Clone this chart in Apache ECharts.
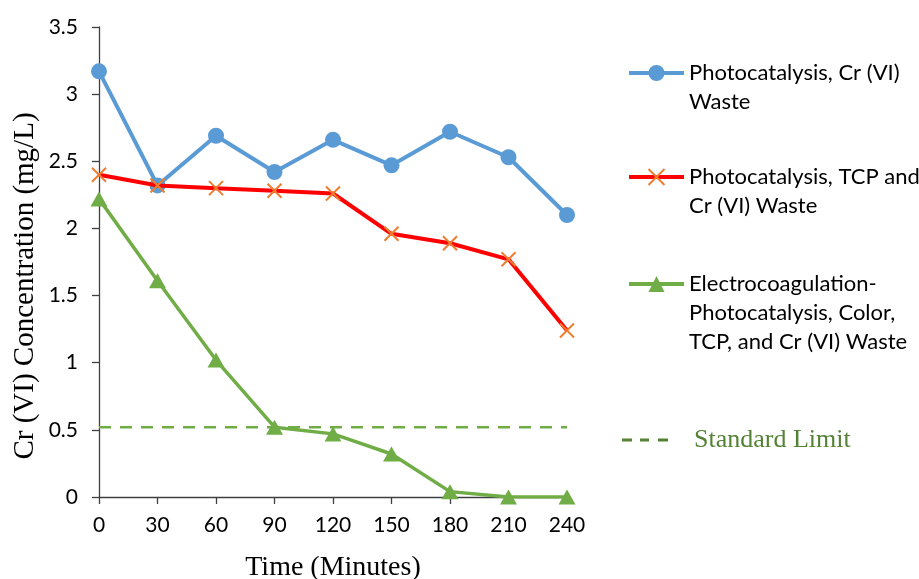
<!DOCTYPE html>
<html>
<head>
<meta charset="utf-8">
<script src="https://cdn.jsdelivr.net/npm/echarts@6/dist/echarts.min.js"></script>
<style>
html,body{margin:0;padding:0;background:#fff;}
#chart{width:919px;height:579px;}
</style>
</head>
<body>
<div id="chart"></div>
<script>
// ---- data ----
const times = [0, 30, 60, 90, 120, 150, 180, 210, 240];
const photoCr = [3.17, 2.32, 2.69, 2.42, 2.66, 2.47, 2.72, 2.53, 2.10];
const photoTcpCr = [2.40, 2.32, 2.30, 2.28, 2.26, 1.96, 1.89, 1.77, 1.24];
const ecPhoto = [2.22, 1.61, 1.02, 0.52, 0.47, 0.32, 0.04, 0.00, 0.00];
const standardLimit = [0.52, 0.52, 0.52, 0.52, 0.52, 0.52, 0.52, 0.52, 0.52];
const seriesNames = [
  'Photocatalysis, Cr (VI)\nWaste',
  'Photocatalysis, TCP and\nCr (VI) Waste',
  'Electrocoagulation-\nPhotocatalysis, Color,\nTCP, and Cr (VI) Waste',
  'Standard Limit'
];
const xTitle = 'Time (Minutes)';
const yTitle = 'Cr (VI) Concentration (mg/L)';

const pair = (vals) => times.map((t, i) => [t, vals[i]]);

const sans = 'Lato';
const serif = 'Liberation Serif';
const LH = 29;

const chart = echarts.init(document.getElementById('chart'), null, {renderer: 'canvas'});

// Legend: icon aligned with first text line (blank lines prepended to centre first line on icon)
function lg(name, top) {
  const n = name.split('\n').length;
  return {
    data: [name],
    left: 627,
    top: top,
    orient: 'vertical',
    padding: 0,
    itemWidth: 55,
    itemHeight: 20,
    itemGap: 0,
    selectedMode: false,
    lineStyle: {width: 4},
    formatter: (nm) => '\n'.repeat(n - 1) + nm,
    textStyle: {fontFamily: sans, fontSize: 22, color: '#000', lineHeight: LH}
  };
}

chart.setOption({
  animation: false,
  backgroundColor: '#fff',
  grid: {left: 99, right: 352, top: 27, bottom: 82, containLabel: false, outerBoundsMode: 'none'},
  xAxis: {
    type: 'value', min: 0, max: 240, interval: 30,
    name: xTitle, nameLocation: 'middle', nameGap: 57,
    nameTextStyle: {fontFamily: serif, fontSize: 28, color: '#000'},
    axisLine: {onZero: false, lineStyle: {color: '#404040', width: 1.3}},
    axisTick: {show: true, inside: false, length: 7, lineStyle: {color: '#404040', width: 1.3}},
    axisLabel: {fontFamily: sans, fontSize: 21, color: '#000', margin: 18},
    splitLine: {show: false}
  },
  yAxis: {
    type: 'value', min: 0, max: 3.5, interval: 0.5,
    axisLine: {show: true, lineStyle: {color: '#404040', width: 1.3}},
    axisTick: {show: true, inside: false, length: 7, lineStyle: {color: '#404040', width: 1.3}},
    axisLabel: {fontFamily: sans, fontSize: 21, color: '#000', margin: 21},
    splitLine: {show: false}
  },
  graphic: [{
    type: 'text', x: 25, y: 286, rotation: Math.PI / 2,
    style: {text: yTitle, fontFamily: serif, fontSize: 29, fill: '#000', align: 'center', verticalAlign: 'middle'}
  }],
  legend: [
    lg(seriesNames[0], 29.5),
    lg(seriesNames[1], 133.5),
    lg(seriesNames[2], 211.5),
    {
      data: [{name: seriesNames[3], icon: 'path://M0,0h10v3h-10zM18,0h9v3h-9zM36,0h10v3h-10z'}],
      left: 622, top: 425, padding: 0,
      itemWidth: 46, itemHeight: 3, selectedMode: false,
      itemStyle: {color: '#548235'},
      textStyle: {fontFamily: serif, fontSize: 26, color: '#548235', lineHeight: 30, padding: [0, 0, 0, 21]}
    }
  ],
  series: [
    {
      name: seriesNames[0], type: 'line', data: pair(photoCr),
      symbol: 'circle', symbolSize: 16,
      lineStyle: {color: '#5B9BD5', width: 4},
      itemStyle: {color: '#5B9BD5'},
      z: 3
    },
    {
      name: seriesNames[1], type: 'line', data: pair(photoTcpCr),
      symbol: 'path://M0,0L10,10M10,0L0,10', symbolSize: 14,
      lineStyle: {color: '#FF0000', width: 4},
      itemStyle: {color: '#ED7D31', borderColor: '#ED7D31', borderWidth: 2},
      z: 4
    },
    {
      name: seriesNames[2], type: 'line', data: pair(ecPhoto),
      symbol: 'triangle', symbolSize: [17, 15],
      lineStyle: {color: '#70AD47', width: 3.5},
      itemStyle: {color: '#70AD47'},
      z: 3
    },
    {
      name: seriesNames[3], type: 'line', data: pair(standardLimit),
      symbol: 'none',
      lineStyle: {color: '#70AD47', width: 2.5, type: [12, 9]},
      itemStyle: {color: '#70AD47'},
      z: 2
    }
  ]
});
</script>
</body>
</html>
